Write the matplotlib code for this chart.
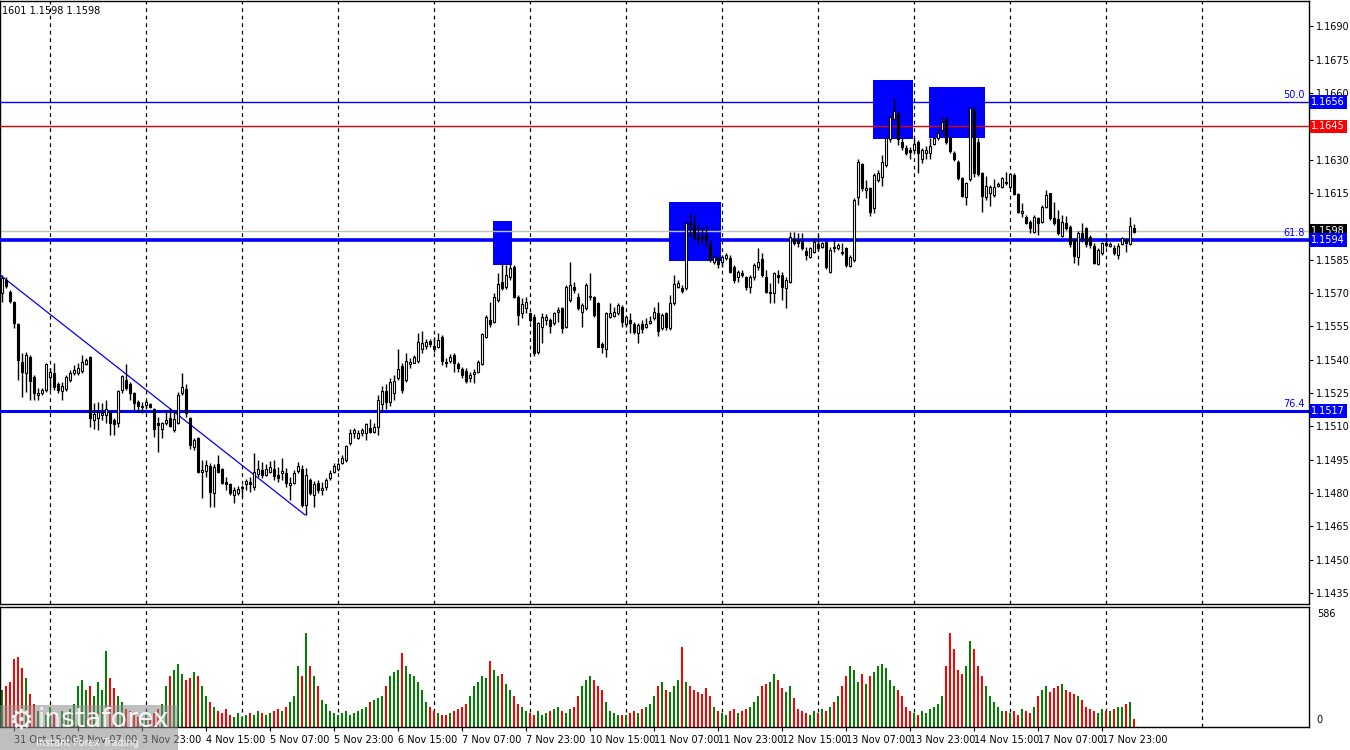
import matplotlib
matplotlib.use("Agg")
import matplotlib.pyplot as plt
import matplotlib.transforms as mtransforms
from matplotlib.patches import Rectangle

# ---------------- data (EURUSD H1) ----------------
opens = [
 1.15699,1.15759,1.15707,1.15662,1.15561,1.15392,1.15339,1.15414,1.15324,1.15240,
 1.15252,1.15264,1.15321,1.15342,1.15291,1.15259,1.15267,1.15309,1.15339,1.15339,
 1.15349,1.15381,1.15414,1.15129,1.15137,1.15150,1.15150,1.15167,1.15129,1.15117,
 1.15264,1.15309,1.15291,1.15249,1.15212,1.15189,1.15197,1.15201,1.15179,1.15114,
 1.15087,1.15114,1.15137,1.15084,1.15117,1.15249,1.15267,1.15137,1.15009,1.15047,
 1.14897,1.14901,1.14922,1.14799,1.14931,1.14907,1.14852,1.14841,1.14792,1.14799,
 1.14824,1.14841,1.14852,1.14826,1.14886,1.14904,1.14882,1.14897,1.14907,1.14882,
 1.14889,1.14889,1.14836,1.14847,1.14901,1.14907,1.14746,1.14859,1.14792,1.14847,
 1.14814,1.14826,1.14867,1.14897,1.14907,1.14937,1.14949,1.15027,1.15069,1.15047,
 1.15069,1.15069,1.15092,1.15076,1.15099,1.15200,1.15260,1.15210,1.15249,1.15316,
 1.15372,1.15309,1.15379,1.15387,1.15396,1.15447,1.15462,1.15486,1.15462,1.15459,
 1.15504,1.15391,1.15396,1.15422,1.15381,1.15357,1.15351,1.15316,1.15336,1.15346,
 1.15381,1.15501,1.15579,1.15571,1.15669,1.15751,1.15726,1.15771,1.15819,1.15684,
 1.15612,1.15631,1.15609,1.15594,1.15436,1.15549,1.15579,1.15579,1.15564,1.15616,
 1.15631,1.15549,1.15669,1.15729,1.15684,1.15616,1.15631,1.15681,1.15681,1.15657,
 1.15471,1.15447,1.15594,1.15597,1.15609,1.15639,1.15561,1.15579,1.15561,1.15519,
 1.15561,1.15549,1.15567,1.15586,1.15609,1.15542,1.15609,1.15542,1.15654,1.15729,
 1.15721,1.15721,1.16014,1.16006,1.15954,1.15951,1.15961,1.15921,1.15841,1.15856,
 1.15841,1.15856,1.15856,1.15819,1.15771,1.15789,1.15771,1.15729,1.15771,1.15816,
 1.15852,1.15771,1.15699,1.15699,1.15781,1.15781,1.15721,1.15751,1.15942,1.15939,
 1.15932,1.15891,1.15861,1.15886,1.15921,1.15909,1.15932,1.15796,1.15909,1.15902,
 1.15886,1.15902,1.15822,1.15849,1.16131,1.16281,1.16164,1.16171,1.16081,1.16209,
 1.16224,1.16277,1.16392,1.16482,1.16509,1.16381,1.16351,1.16344,1.16344,1.16381,
 1.16302,1.16329,1.16329,1.16371,1.16396,1.16434,1.16482,1.16396,1.16332,1.16291,
 1.16216,1.16131,1.16212,1.16524,1.16381,1.16239,1.16131,1.16152,1.16142,1.16182,
 1.16179,1.16201,1.16179,1.16231,1.16146,1.16059,1.16044,1.16022,1.15976,1.16036,
 1.16022,1.16089,1.16149,1.16036,1.16032,1.15957,1.16014,1.15999,1.15939,1.15861,
 1.15972,1.15992,1.15951,1.15912,1.15831,1.15879,1.15924,1.15912,1.15902,1.15871,
 1.15921,1.15939,1.15921,1.15992]
highs = [
 1.15781,1.15774,1.15714,1.15666,1.15567,1.15429,1.15437,1.15422,1.15332,1.15272,
 1.15272,1.15384,1.15362,1.15384,1.15302,1.15302,1.15332,1.15354,1.15377,1.15384,
 1.15422,1.15407,1.15417,1.15207,1.15212,1.15207,1.15219,1.15174,1.15137,1.15264,
 1.15332,1.15381,1.15302,1.15257,1.15219,1.15212,1.15219,1.15207,1.15182,1.15144,
 1.15122,1.15174,1.15182,1.15174,1.15257,1.15339,1.15291,1.15144,1.15047,1.15054,
 1.14949,1.14949,1.14934,1.14931,1.14972,1.14912,1.14874,1.14847,1.14829,1.14832,
 1.14837,1.14862,1.14874,1.14979,1.14949,1.14942,1.14931,1.14946,1.14949,1.14919,
 1.14957,1.14912,1.14874,1.14904,1.14942,1.14926,1.14912,1.14867,1.14856,1.14859,
 1.14852,1.14867,1.14904,1.14937,1.14942,1.14972,1.15016,1.15087,1.15092,1.15084,
 1.15092,1.15117,1.15132,1.15114,1.15242,1.15280,1.15290,1.15320,1.15330,1.15447,
 1.15384,1.15429,1.15406,1.15422,1.15519,1.15529,1.15492,1.15492,1.15504,1.15522,
 1.15511,1.15406,1.15426,1.15429,1.15391,1.15369,1.15362,1.15346,1.15357,1.15399,
 1.15522,1.15601,1.15662,1.15699,1.15792,1.15834,1.15827,1.15834,1.15827,1.15691,
 1.15677,1.15684,1.15616,1.15606,1.15571,1.15612,1.15606,1.15586,1.15616,1.15639,
 1.15639,1.15736,1.15841,1.15751,1.15699,1.15654,1.15744,1.15792,1.15687,1.15662,
 1.15482,1.15616,1.15654,1.15639,1.15654,1.15646,1.15601,1.15609,1.15571,1.15564,
 1.15579,1.15586,1.15597,1.15639,1.15662,1.15609,1.15616,1.15691,1.15781,1.15759,
 1.15736,1.16022,1.16059,1.16052,1.16011,1.15999,1.16006,1.15939,1.15872,1.15867,
 1.15872,1.15879,1.15872,1.15827,1.15804,1.15804,1.15777,1.15781,1.15834,1.15902,
 1.15882,1.15804,1.15744,1.15796,1.15804,1.15796,1.15774,1.15976,1.15976,1.15969,
 1.15969,1.15909,1.15909,1.15946,1.15961,1.15932,1.15936,1.15906,1.15939,1.15927,
 1.15924,1.15909,1.15871,1.16126,1.16302,1.16287,1.16209,1.16179,1.16239,1.16254,
 1.16322,1.16404,1.16497,1.16577,1.16517,1.16396,1.16367,1.16359,1.16396,1.16389,
 1.16351,1.16362,1.16396,1.16404,1.16434,1.16494,1.16494,1.16407,1.16341,1.16299,
 1.16224,1.16201,1.16539,1.16536,1.16396,1.16246,1.16227,1.16186,1.16212,1.16201,
 1.16221,1.16246,1.16242,1.16239,1.16152,1.16107,1.16052,1.16029,1.16052,1.16044,
 1.16096,1.16164,1.16152,1.16111,1.16074,1.16052,1.16047,1.16006,1.15946,1.15981,
 1.16014,1.15999,1.15961,1.15924,1.15902,1.15932,1.15954,1.15932,1.15916,1.15924,
 1.15954,1.15946,1.16044,1.16011]
lows = [
 1.15662,1.15722,1.15657,1.15542,1.15309,1.15234,1.15257,1.15219,1.15219,1.15219,
 1.15242,1.15257,1.15264,1.15264,1.15252,1.15219,1.15261,1.15302,1.15332,1.15332,
 1.15339,1.15377,1.15099,1.15087,1.15084,1.15129,1.15114,1.15062,1.15062,1.15099,
 1.15249,1.15264,1.15219,1.15174,1.15167,1.15162,1.15182,1.15182,1.15054,1.14987,
 1.15047,1.15107,1.15099,1.15077,1.15111,1.15242,1.15144,1.14997,1.14994,1.14889,
 1.14777,1.14874,1.14739,1.14739,1.14889,1.14841,1.14814,1.14792,1.14754,1.14792,
 1.14784,1.14814,1.14807,1.14814,1.14874,1.14867,1.14877,1.14889,1.14859,1.14852,
 1.14859,1.14829,1.14769,1.14841,1.14889,1.14739,1.14701,1.14792,1.14739,1.14799,
 1.14792,1.14814,1.14859,1.14889,1.14901,1.14931,1.14942,1.15016,1.15047,1.15042,
 1.15057,1.15039,1.15069,1.15069,1.15062,1.15170,1.15180,1.15190,1.15220,1.15309,
 1.15249,1.15301,1.15362,1.15384,1.15387,1.15429,1.15447,1.15459,1.15436,1.15451,
 1.15377,1.15369,1.15384,1.15346,1.15346,1.15316,1.15297,1.15301,1.15297,1.15339,
 1.15377,1.15497,1.15549,1.15564,1.15662,1.15714,1.15717,1.15759,1.15677,1.15556,
 1.15586,1.15609,1.15571,1.15417,1.15426,1.15474,1.15556,1.15519,1.15556,1.15571,
 1.15519,1.15542,1.15662,1.15699,1.15624,1.15549,1.15624,1.15669,1.15594,1.15456,
 1.15429,1.15414,1.15586,1.15591,1.15601,1.15549,1.15549,1.15519,1.15516,1.15477,
 1.15519,1.15542,1.15561,1.15579,1.15507,1.15534,1.15534,1.15534,1.15646,1.15721,
 1.15699,1.15714,1.15954,1.15939,1.15916,1.15921,1.15909,1.15841,1.15831,1.15811,
 1.15816,1.15849,1.15789,1.15744,1.15751,1.15771,1.15714,1.15702,1.15759,1.15804,
 1.15771,1.15699,1.15657,1.15657,1.15744,1.15669,1.15631,1.15744,1.15916,1.15909,
 1.15894,1.15849,1.15856,1.15882,1.15894,1.15902,1.15807,1.15792,1.15886,1.15894,
 1.15871,1.15819,1.15816,1.15841,1.16096,1.16161,1.16126,1.16047,1.16059,1.16201,
 1.16182,1.16269,1.16381,1.16479,1.16367,1.16344,1.16321,1.16302,1.16329,1.16242,
 1.16284,1.16302,1.16302,1.16367,1.16389,1.16427,1.16371,1.16332,1.16296,1.16209,
 1.16131,1.16096,1.16206,1.16224,1.16227,1.16066,1.16119,1.16092,1.16134,1.16176,
 1.16171,1.16186,1.16171,1.16142,1.16059,1.16044,1.16011,1.15969,1.15969,1.15961,
 1.16014,1.16081,1.16029,1.16006,1.15961,1.15954,1.15984,1.15909,1.15834,1.15827,
 1.15931,1.15909,1.15902,1.15831,1.15827,1.15871,1.15909,1.15906,1.15871,1.15852,
 1.15916,1.15886,1.15916,1.15969]
closes = [
 1.15766,1.15732,1.15666,1.15567,1.15399,1.15347,1.15422,1.15306,1.15252,1.15249,
 1.15264,1.15379,1.15347,1.15279,1.15264,1.15282,1.15324,1.15342,1.15354,1.15362,
 1.15392,1.15399,1.15137,1.15156,1.15167,1.15162,1.15177,1.15117,1.15111,1.15259,
 1.15327,1.15272,1.15249,1.15204,1.15194,1.15194,1.15209,1.15189,1.15087,1.15107,
 1.15114,1.15129,1.15102,1.15132,1.15242,1.15279,1.15159,1.15016,1.15039,1.14897,
 1.14904,1.14926,1.14807,1.14919,1.14897,1.14847,1.14841,1.14799,1.14814,1.14817,
 1.14829,1.14856,1.14841,1.14897,1.14907,1.14882,1.14907,1.14919,1.14877,1.14867,
 1.14901,1.14847,1.14847,1.14892,1.14922,1.14746,1.14882,1.14799,1.14841,1.14814,
 1.14822,1.14859,1.14889,1.14922,1.14931,1.14957,1.15012,1.15072,1.15084,1.15072,
 1.15084,1.15111,1.15076,1.15099,1.15219,1.15260,1.15210,1.15300,1.15306,1.15357,
 1.15264,1.15396,1.15391,1.15414,1.15482,1.15477,1.15482,1.15471,1.15447,1.15489,
 1.15396,1.15384,1.15414,1.15387,1.15362,1.15332,1.15306,1.15332,1.15346,1.15391,
 1.15516,1.15594,1.15561,1.15681,1.15741,1.15721,1.15781,1.15811,1.15684,1.15601,
 1.15651,1.15661,1.15579,1.15429,1.15564,1.15591,1.15594,1.15552,1.15609,1.15624,
 1.15542,1.15729,1.15736,1.15714,1.15631,1.15646,1.15736,1.15687,1.15601,1.15459,
 1.15459,1.15609,1.15609,1.15616,1.15646,1.15571,1.15591,1.15567,1.15527,1.15556,
 1.15537,1.15559,1.15576,1.15616,1.15531,1.15601,1.15546,1.15654,1.15741,1.15747,
 1.15711,1.16017,1.16006,1.15954,1.15942,1.15946,1.15939,1.15849,1.15864,1.15831,
 1.15864,1.15872,1.15797,1.15759,1.15797,1.15781,1.15729,1.15771,1.15827,1.15841,
 1.15781,1.15706,1.15706,1.15789,1.15771,1.15729,1.15759,1.15954,1.15924,1.15927,
 1.15902,1.15872,1.15902,1.15932,1.15902,1.15924,1.15819,1.15894,1.15902,1.15916,
 1.15879,1.15827,1.15864,1.16119,1.16291,1.16171,1.16171,1.16066,1.16231,1.16239,
 1.16291,1.16396,1.16491,1.16521,1.16392,1.16359,1.16329,1.16337,1.16371,1.16329,
 1.16344,1.16344,1.16362,1.16396,1.16422,1.16472,1.16381,1.16341,1.16302,1.16216,
 1.16137,1.16197,1.16532,1.16239,1.16236,1.16137,1.16182,1.16176,1.16176,1.16191,
 1.16216,1.16194,1.16236,1.16146,1.16066,1.16071,1.16017,1.15992,1.16044,1.16017,
 1.16086,1.16142,1.16036,1.16014,1.15969,1.16022,1.15992,1.15921,1.15867,1.15972,
 1.15946,1.15921,1.15916,1.15837,1.15894,1.15924,1.15916,1.15921,1.15879,1.15912,
 1.15946,1.15924,1.16002,1.15977]
volumes = [
 180,200,220,330,340,290,240,160,110,80,70,60,100,
 70,60,80,60,90,110,200,230,180,200,150,220,180,370,240,190,150,120,90,80,60,50,40,
 60,50,70,90,110,200,250,280,310,260,230,240,270,250,200,150,120,100,80,70,90,60,50,70,
 50,60,70,60,80,70,60,70,80,90,80,100,120,150,300,250,460,300,250,200,130,110,80,70,
 60,70,80,60,70,80,90,100,120,130,140,150,200,250,270,280,360,300,260,250,220,180,120,100,
 80,70,60,60,70,80,90,100,110,150,200,220,250,240,320,280,250,260,210,180,150,110,100,80,
 70,60,80,60,70,80,90,100,80,70,90,100,150,200,230,250,230,200,180,120,80,70,60,60,
 60,70,80,70,90,100,110,150,200,220,180,170,200,230,390,220,200,180,170,160,190,150,100,80,
 70,60,80,90,70,80,90,100,120,150,200,210,220,260,230,190,170,200,140,90,80,70,60,80,
 70,90,80,100,120,150,200,250,300,280,220,260,210,250,270,300,310,290,230,200,180,150,100,80,
 70,60,80,70,90,100,110,150,300,460,380,280,260,300,420,380,300,250,200,150,120,100,80,80,
 70,80,60,90,80,70,100,150,180,200,170,190,200,210,180,170,160,150,130,100,90,80,70,90,
 80,80,90,100,100,110,120,40]

time_labels = ["31 Oct 15:00", "3 Nov 07:00", "3 Nov 23:00", "4 Nov 15:00",
               "5 Nov 07:00", "5 Nov 23:00", "6 Nov 15:00", "7 Nov 07:00",
               "7 Nov 23:00", "10 Nov 15:00", "11 Nov 07:00", "11 Nov 23:00",
               "12 Nov 15:00", "13 Nov 07:00", "13 Nov 23:00", "14 Nov 15:00",
               "17 Nov 07:00", "17 Nov 23:00"]
label_bars = [3, 19, 35, 51, 67, 83, 99, 115, 131, 147, 163, 179, 195, 211,
              227, 243, 259, 275]
day_bars = [12, 36, 60, 84, 108, 132, 156, 180, 204, 228, 252, 276, 300]

price_ticks = [1.1435, 1.1450, 1.1465, 1.1480, 1.1495, 1.1510, 1.1525, 1.1540,
               1.1555, 1.1570, 1.1585, 1.1615, 1.1630, 1.1660, 1.1675, 1.1690]

fib_levels = [1.1656, 1.1594, 1.1517]
fib_names = ["50.0", "61.8", "76.4"]
resist_level = 1.1645
last_price = 1.1598

# signal boxes: (bar start, bar end, price low, price high)
box_x0 = [122.75, 166.75, 217.75, 231.75]
box_x1 = [127.5, 179.75, 227.75, 245.75]
box_lo = [1.15827, 1.15845, 1.16394, 1.16398]
box_hi = [1.16025, 1.16110, 1.16659, 1.16628]

trend_bars = [-0.5, 75.75]
trend_prices = [1.15782, 1.14702]

vol_max = 586

# ---------------- figure ----------------
W, H = 1350, 750
fig = plt.figure(figsize=(W / 100, H / 100), dpi=100)
fig.patch.set_facecolor("white")
ax = fig.add_axes([0, 1 - 604 / H, 1309 / W, 603 / H])
axv = fig.add_axes([0, 1 - 727 / H, 1309 / W, 120 / H])

n = len(closes)
xs = list(range(n))
for a in (ax, axv):
    a.set_xlim(-0.5, 326.75)
    a.set_facecolor("white")
    for s in a.spines.values():
        s.set_color("black")
        s.set_linewidth(1.0)
    for b in day_bars:
        a.axvline(b, color="black", lw=0.9, ls=(0, (3, 3)), zorder=1)

ax.set_ylim(1.14301, 1.170145)
axv.set_ylim(0, vol_max)

# boxes
for x0, x1, lo, hi in zip(box_x0, box_x1, box_lo, box_hi):
    ax.add_patch(Rectangle((x0, lo), x1 - x0, hi - lo, facecolor="#0000FF",
                           edgecolor="none", zorder=2))

# horizontal levels
ax.axhline(last_price, color="#C0C0C0", lw=1.0, zorder=2.5)
ax.axhline(fib_levels[0], color="#0000FF", lw=1.0, zorder=2.6)
ax.axhline(resist_level, color="#E00000", lw=1.0, zorder=2.6)
ax.axhline(fib_levels[1], color="#0000FF", lw=2.6, zorder=2.6)
ax.axhline(fib_levels[2], color="#0000FF", lw=2.2, zorder=2.6)

# trend line
ax.plot(trend_bars, trend_prices, color="#0000FF", lw=0.9, zorder=2.7)

# candles
up = [c >= o for o, c in zip(opens, closes)]
ax.vlines(xs, lows, highs, color="black", lw=1.0, zorder=3)
bottoms = [min(o, c) for o, c in zip(opens, closes)]
heights = [max(abs(c - o), 0.00003) for o, c in zip(opens, closes)]
ax.bar(xs, heights, bottom=bottoms, width=0.72,
       color=["white" if u else "black" for u in up],
       edgecolor="black", linewidth=0.8, zorder=4)

# volume
axv.bar(xs, volumes, width=0.7,
        color=["#008000" if u else "#FF0000" for u in up], zorder=2)

# axes ticks
ax.yaxis.tick_right()
ax.set_yticks(price_ticks)
ax.set_yticklabels([f"{p:.4f}" for p in price_ticks])
ax.tick_params(axis="y", direction="out", length=3, width=0.8, pad=2,
               labelsize=7, colors="black")
ax.set_xticks([])

axv.set_yticks([])
axv.set_xticks(label_bars)
axv.set_xticklabels(time_labels, ha="left")
axv.tick_params(axis="x", direction="out", length=3, width=0.8, pad=3,
                labelsize=7)

trans = mtransforms.blended_transform_factory(ax.transAxes, ax.transData)
box_style = dict(boxstyle="square,pad=0.18", ec="none")
for p, fc in [(fib_levels[0], "#0000FF"), (resist_level, "#FF0000"),
              (last_price, "#000000"), (fib_levels[1], "#0000FF"),
              (fib_levels[2], "#0000FF")]:
    ax.text(1.0018, p, f"{p:.4f}", transform=trans, ha="left", va="center",
            color="white", fontsize=7, bbox=dict(fc=fc, **box_style),
            zorder=10, clip_on=False)
for p, name in zip(fib_levels, fib_names):
    ax.text(0.9965, p + 0.00008, name, transform=trans, ha="right",
            va="bottom", color="#0000FF", fontsize=7, zorder=10)

axv.text(1.006, 0.98, str(vol_max), transform=axv.transAxes, ha="left",
         va="top", fontsize=7)
axv.text(1.006, 0.02, "0", transform=axv.transAxes, ha="left",
         va="bottom", fontsize=7)

# header
fig.text(2 / W, 1 - 11 / H, "1601 1.1598 1.1598", fontsize=7, ha="left",
         va="center")

# watermark (semi-transparent, sits over the first date labels as in the original)
fig.patches.append(Rectangle((0, 0), 178 / W, 45 / H, transform=fig.transFigure,
                             facecolor="#8c8c8c", alpha=0.55, edgecolor="none",
                             zorder=20))
fig.text(8 / W, 1 - 721 / H, "\u2699", fontsize=20, color="white",
         ha="left", va="center", zorder=21, alpha=0.9)
fig.text(37 / W, 1 - 720 / H, "instaforex", fontsize=19, color="white",
         ha="left", va="center", zorder=21, alpha=0.9)
fig.text(36 / W, 1 - 743 / H, "Instant Forex Trading", fontsize=7,
         color="white", ha="left", va="center", zorder=21, alpha=0.9)

fig.savefig("out.png", dpi=100, facecolor="white")
